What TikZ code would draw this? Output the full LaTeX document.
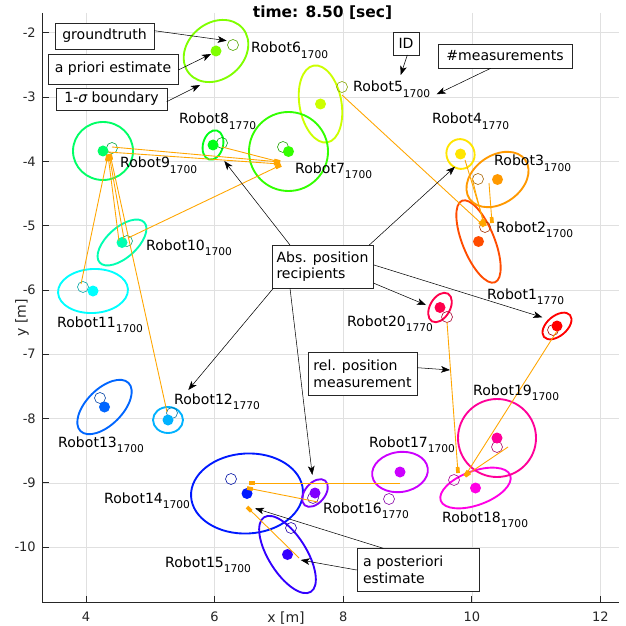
\documentclass[tikz,border=0pt]{standalone}
\usepackage{fontspec}
\setmainfont{DejaVu Sans}
\usetikzlibrary{arrows.meta}
\definecolor{c1}{rgb}{1,0,0}
\definecolor{c2}{rgb}{1,0.3,0}
\definecolor{c3}{rgb}{1,0.6,0}
\definecolor{c4}{rgb}{1,0.9,0}
\definecolor{c5}{rgb}{0.8,1,0}
\definecolor{c6}{rgb}{0.5,1,0}
\definecolor{c7}{rgb}{0.2,1,0}
\definecolor{c8}{rgb}{0,1,0.1}
\definecolor{c9}{rgb}{0,1,0.4}
\definecolor{c10}{rgb}{0,1,0.7}
\definecolor{c11}{rgb}{0,1,1}
\definecolor{c12}{rgb}{0,0.7,1}
\definecolor{c13}{rgb}{0,0.4,1}
\definecolor{c14}{rgb}{0,0.1,1}
\definecolor{c15}{rgb}{0.2,0,1}
\definecolor{c16}{rgb}{0.5,0,1}
\definecolor{c17}{rgb}{0.8,0,1}
\definecolor{c18}{rgb}{1,0,0.9}
\definecolor{c19}{rgb}{1,0,0.6}
\definecolor{c20}{rgb}{1,0,0.3}
\definecolor{axc}{rgb}{0.15,0.15,0.15}
\definecolor{gridc}{rgb}{0.88,0.88,0.88}
\definecolor{measc}{rgb}{1,0.65,0}
\newcommand{\lblfont}{\fontsize{12}{14.2}\selectfont}
\newcommand{\subfont}{\fontsize{9.1}{10}\selectfont}
\newcommand{\rlab}[2]{Robot#1\raisebox{-5.1pt}{\subfont #2}}
\begin{document}
\begin{tikzpicture}[x=0.03cm,y=-0.03cm,
  ell/.style={line width=1.6pt},
  dot/.style={circle,inner sep=0pt,minimum size=0.33cm},
  gtc/.style={circle,inner sep=0pt,minimum size=0.33cm,line width=0.5pt},
  lbl/.style={anchor=base west,inner sep=0pt,font=\lblfont},
  tick/.style={inner sep=0pt,font=\fontsize{11.1}{13}\selectfont},
  measline/.style={draw=measc,line width=0.75pt,-{Rectangle[length=0.18cm,width=0.11cm]}},
  annarrow/.style={draw=black,line width=0.45pt,-{Stealth[length=0.27cm,width=0.2cm,inset=0.07cm]}},
  annbox/.style={draw=axc,fill=white,line width=0.6pt,inner sep=0pt,font=\lblfont},
  annbox2/.style={annbox,align=left}
]
\fill[white] (0,0) rectangle (626,625);
\useasboundingbox (0,0) rectangle (626,625);
% grid
\foreach \gx in {86,214.6,343.2,471.8,600.4}
  \draw[gridc,line width=0.5pt] (\gx,13) -- (\gx,602);
\foreach \gy in {32.7,97,161.3,225.6,289.9,354.2,418.5,482.8,547.1}
  \draw[gridc,line width=0.5pt] (42.7,\gy) -- (619,\gy);
% axes
\draw[axc,line width=0.6pt] (42.7,13) -- (42.7,602) -- (619,602);
\foreach \gx in {86,214.6,343.2,471.8,600.4}
  \draw[axc,line width=0.6pt] (\gx,602) -- (\gx,596);
\foreach \gy in {32.7,97,161.3,225.6,289.9,354.2,418.5,482.8,547.1}
  \draw[axc,line width=0.6pt] (42.7,\gy) -- (48.7,\gy);
\foreach \v/\yy [count=\i] in {-2/32.7,-3/97,-4/161.3,-5/225.6,-6/289.9,-7/354.2,-8/418.5,-9/482.8,-10/547.1}
  \node[tick,anchor=east,text=axc] (yt\i) at (36,\yy) {\v};
\foreach \v/\xx [count=\i] in {4/86,6/214.6,8/343.2,10/471.8,12/600.4}
  \node[tick,anchor=base,text=axc] (xt\i) at (\xx,621.5) {\v};
\node[inner sep=0pt,font=\lblfont,anchor=base,text=axc] (xlab) at (286,622) {x [m]};
\node[inner sep=0pt,font=\lblfont,rotate=90,text=axc] (ylab) at (22,318) {y [m]};
\node[inner sep=0pt,font=\bfseries\fontsize{13.2}{15}\selectfont,anchor=base] (title) at (322.5,18) {time: 8.50 [sec]};
% robots: uncertainty ellipses
\foreach \n/\cx/\cy/\a/\b/\t in {
 1/557/326/17/10/40, 2/478.5/241.5/16/44/22, 3/497.5/179.5/34/24/35,
 4/460.5/154/14/15/20, 5/320.5/104/21/39/10, 6/216/51/35/28/40,
 7/288.5/151.5/39.5/39.5/0, 8/213/145/10/15/-15, 9/103/151/30/29/0,
 10/122/242.5/30/15/42, 11/93/291/35/22/3, 12/168/420/15/13/0,
 13/104.5/407/34/18/45, 14/247/493.5/56/40/3, 15/287.5/554.5/19/44/32,
 16/315/493/16/10/50, 17/400/472/28/20/8, 18/475.5/488/37/17/20,
 19/497/438/39/39/0, 20/440/307.5/16/10/60}{
  \draw[c\n,ell,rotate around={\t:(\cx,\cy)}] (\cx,\cy) ellipse [x radius=\a, y radius=\b];
}
% groundtruth circles
\foreach \n/\gx/\gy in {1/553/330, 2/485/227, 3/478/179, 5/342/87, 6/233/45,
 7/283/147, 8/222/143, 9/112/148, 10/127/241, 11/83/287, 12/172/413, 13/100/398,
 14/231/479, 15/291/528, 16/313/498, 17/389/499, 18/454/480, 19/497/447, 20/447/317}
  \node[gtc,draw=c\n!65!black] (g\n) at (\gx,\gy) {};
% a priori estimates
\foreach \n/\cx/\cy in {1/557/326, 2/478.5/241.5, 3/497.5/179.5, 4/460.5/154,
 5/320.5/104, 6/216/51, 7/288.5/151.5, 8/213/145, 9/103/151, 10/122/242.5,
 11/93/291, 12/168/420, 13/104.5/407, 14/247/493.5, 15/287.5/554.5, 16/315/493,
 17/400/472, 18/475.5/488, 19/497/438, 20/440/307.5}
  \node[dot,fill=c\n] (e\n) at (\cx,\cy) {};
% relative position measurements
\foreach \i/\ax/\ay/\bx/\by in {
 1/112/147/280/162, 2/108/152/280/164, 3/222/147/280/162, 4/128/238/281/165,
 5/81/284/108/155, 6/119/241/108/155, 7/124/239/109/154, 8/167/412/110/154,
 9/342/95/484/226, 10/465/160/485/226, 11/472/178/484/225, 12/489/183/492/223,
 13/447/322/458/473, 14/557/331/465/476, 15/508/447/465/476,
 16/400/483/249/483, 17/318/502/247/488, 18/299/558/247/507}{
  \coordinate (ms\i) at (\ax,\ay);
  \coordinate (me\i) at (\bx,\by);
  \draw[measline] (ms\i) -- (me\i);
}
% robot labels
\foreach \n/\lx/\ly/\s in {1/487/299/1770, 2/496/232/1700, 3/494/166/1700, 4/432/124/1770,
 5/353/92/1700, 6/251/53/1700, 7/295/173/1700, 8/179/124/1770, 9/120/168/1700,
 10/146/250/1700, 11/57/327/1700, 12/174/404/1770, 13/58/447/1700, 14/104/503/1700,
 15/165/567/1700, 16/323/513/1770, 17/369/447/1700, 18/442/522/1700, 19/473/395/1700,
 20/347/326/1770}
  \node[lbl] (l\n) at (\lx,\ly) {\rlab{\n}{\s}};
% annotation boxes
\node[annbox,minimum width=2.97cm,minimum height=0.78cm] (gt) at (104.5,36) {groundtruth};
\node[annbox,minimum width=3.9cm,minimum height=0.9cm] (prior) at (113,69) {a priori estimate};
\node[annbox,minimum width=3.33cm,minimum height=0.66cm] (sig) at (111.5,99) {1-{\itshape σ} boundary};
\node[annbox,minimum width=0.78cm,minimum height=0.69cm] (id) at (406,43.5) {ID};
\node[annbox,minimum width=4.02cm,minimum height=0.72cm] (nm) at (505,56) {\#measurements};
\node[annbox2,minimum width=3.03cm,minimum height=1.29cm] (abs) at (322.5,266.5) {Abs. position\\recipients};
\node[annbox2,minimum width=3.27cm,minimum height=1.29cm] (rel) at (362.5,373.5) {rel. position\\measurement};
\node[annbox2,inner xsep=0.18cm,text width=3.3cm,minimum height=1.29cm] (post) at (418,569.5) {a posteriori\\estimate};
% annotation arrows
\foreach \i/\ax/\ay/\bx/\by in {
 1/154.3/30.7/226.7/40.7, 2/178.3/70/211/54, 3/166.7/101.7/200/85,
 4/407.3/55/400.7/75, 5/490.7/68.3/436.7/94.3, 6/290/245/224.3/161,
 7/369.3/245/455/166.7, 8/374/265/542.3/317.3, 9/374/283.3/426/305,
 10/273.3/288.3/188.3/390, 11/290/288.3/312.3/475, 12/417.3/367.7/450/370,
 13/383.3/548.3/255/508.3, 14/356.7/570/300.7/560}{
  \coordinate (as\i) at (\ax,\ay);
  \coordinate (ae\i) at (\bx,\by);
  \draw[annarrow] (as\i) -- (ae\i);
}
\end{tikzpicture}
\end{document}
